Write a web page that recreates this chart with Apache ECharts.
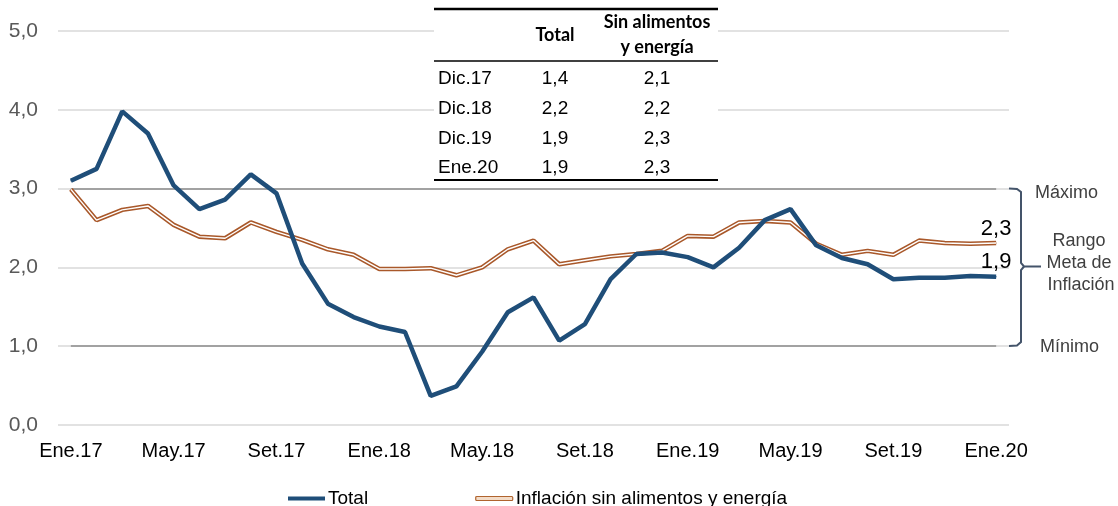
<!DOCTYPE html>
<html><head><meta charset="utf-8">
<script src="https://cdn.jsdelivr.net/npm/echarts@6/dist/echarts.min.js"></script>
<style>html,body{margin:0;padding:0;background:#fff}#c{width:1118px;height:506px}</style>
</head><body><div id="c"></div>
<script>
const categories = ['Ene.17','Feb.17','Mar.17','Abr.17','May.17','Jun.17','Jul.17','Ago.17','Set.17','Oct.17','Nov.17','Dic.17',
  'Ene.18','Feb.18','Mar.18','Abr.18','May.18','Jun.18','Jul.18','Ago.18','Set.18','Oct.18','Nov.18','Dic.18',
  'Ene.19','Feb.19','Mar.19','Abr.19','May.19','Jun.19','Jul.19','Ago.19','Set.19','Oct.19','Nov.19','Dic.19','Ene.20'];
const totalValues = [3.10,3.25,3.98,3.70,3.04,2.74,2.86,3.18,2.94,2.05,1.54,1.37,
  1.25,1.18,0.37,0.49,0.93,1.43,1.62,1.07,1.28,1.85,2.17,2.19,
  2.13,2.00,2.25,2.60,2.74,2.28,2.12,2.04,1.85,1.87,1.87,1.89,1.88];
const coreValues = [2.99,2.60,2.73,2.78,2.54,2.39,2.37,2.57,2.45,2.35,2.23,2.16,
  1.98,1.98,1.99,1.90,2.00,2.23,2.34,2.04,2.09,2.14,2.17,2.21,
  2.40,2.39,2.57,2.59,2.57,2.30,2.16,2.21,2.16,2.34,2.31,2.30,2.31];
const yTicks = [0,1,2,3,4,5];
const targetMin = 1, targetMax = 3;
const tableHeader = ['Total', ['Sin alimentos','y energía']];
const tableRows = [['Dic.17','1,4','2,1'],['Dic.18','2,2','2,2'],['Dic.19','1,9','2,3'],['Ene.20','1,9','2,3']];
const seriesNames = ['Total','Inflación sin alimentos y energía'];

const fmt = v => v.toFixed(1).replace('.', ',');
const lastIdx = categories.length - 1;
const TXT = '"Liberation Sans", Arial, sans-serif';
const endLabel = (arr) => arr.map((v,i) => i === lastIdx ? {value:v, label:{show:true, position:'top', distance:3,
  formatter: p => fmt(p.value), fontSize:22, color:'#000', fontFamily:TXT}} : v);

const graphic = [];
// table
const tx0 = 434, tx1 = 718;
graphic.push({type:'rect', shape:{x:tx0, y:8, width:tx1-tx0, height:174}, style:{fill:'#fff'}, z:50});
graphic.push({type:'line', shape:{x1:tx0,y1:9,x2:tx1,y2:9}, style:{stroke:'#000', lineWidth:2.5}, z:51});
graphic.push({type:'line', shape:{x1:tx0,y1:61,x2:tx1,y2:61}, style:{stroke:'#000', lineWidth:1.5}, z:51});
graphic.push({type:'line', shape:{x1:tx0,y1:180,x2:tx1,y2:180}, style:{stroke:'#000', lineWidth:2}, z:51});
const colX = [438, 555, 657];
const HB = 'bold 18px Lato, "Open Sans", sans-serif';
graphic.push({type:'text', z:52, style:{text:tableHeader[0], x:colX[1], y:35, textAlign:'center', textVerticalAlign:'middle', font:HB, fill:'#000'}});
graphic.push({type:'text', z:52, style:{text:tableHeader[1][0], x:colX[2], y:22, textAlign:'center', textVerticalAlign:'middle', font:HB, fill:'#000'}});
graphic.push({type:'text', z:52, style:{text:tableHeader[1][1], x:colX[2], y:47, textAlign:'center', textVerticalAlign:'middle', font:HB, fill:'#000'}});
const rowY = [79, 108.5, 139, 167.5];
tableRows.forEach((r, i) => {
  graphic.push({type:'text', z:52, style:{text:r[0], x:colX[0], y:rowY[i], textAlign:'left', textVerticalAlign:'middle', font:'19px '+TXT, fill:'#000'}});
  graphic.push({type:'text', z:52, style:{text:r[1], x:colX[1], y:rowY[i], textAlign:'center', textVerticalAlign:'middle', font:'19px '+TXT, fill:'#000'}});
  graphic.push({type:'text', z:52, style:{text:r[2], x:colX[2], y:rowY[i], textAlign:'center', textVerticalAlign:'middle', font:'19px '+TXT, fill:'#000'}});
});
// bracket
const BC = '#44546A';
graphic.push({type:'polyline', shape:{points:[[1009,188.5],[1017,189],[1021,192],[1021,263],[1024,266.5],[1041,266.5]]}, style:{stroke:BC, lineWidth:2, fill:null}, z:40});
graphic.push({type:'polyline', shape:{points:[[1024,266.5],[1021,270],[1021,342],[1017,345.5],[1009,346]]}, style:{stroke:BC, lineWidth:2, fill:null}, z:40});
const AF = '18px ' + TXT, AC = '#404040';
graphic.push({type:'text', style:{text:'Máximo', x:1035, y:193, textAlign:'left', textVerticalAlign:'middle', font:AF, fill:AC}});
graphic.push({type:'text', style:{text:'Rango', x:1079, y:241, textAlign:'center', textVerticalAlign:'middle', font:AF, fill:AC}});
graphic.push({type:'text', style:{text:'Meta de', x:1079, y:263, textAlign:'center', textVerticalAlign:'middle', font:AF, fill:AC}});
graphic.push({type:'text', style:{text:'Inflación', x:1081, y:285, textAlign:'center', textVerticalAlign:'middle', font:AF, fill:AC}});
graphic.push({type:'text', style:{text:'Mínimo', x:1040, y:347, textAlign:'left', textVerticalAlign:'middle', font:AF, fill:AC}});

const chart = echarts.init(document.getElementById('c'), null, {renderer:'canvas'});
chart.setOption({
  animation:false,
  backgroundColor:'#fff',
  grid:{left:58, right:109, top:31, bottom:81, containLabel:false},
  xAxis:{type:'category', data:categories, boundaryGap:true,
    axisLine:{show:false}, axisTick:{show:false},
    axisLabel:{interval:3, fontSize:20, color:'#000', fontFamily:TXT, margin:16},
    splitLine:{show:false}},
  yAxis:{type:'value', min:yTicks[0], max:yTicks[yTicks.length-1], interval:1,
    axisLine:{show:false}, axisTick:{show:false},
    axisLabel:{formatter:v => fmt(v), fontSize:21, color:'#595959', fontFamily:TXT, margin:20},
    splitLine:{lineStyle:{color:'#d9d9d9', width:1.5}}},
  legend:{left:283, top:484, itemWidth:37, itemHeight:4, itemGap:107,
    textStyle:{fontSize:19, color:'#000', fontFamily:TXT, padding:[0,0,0,-2]},
    data:[{name:seriesNames[0], icon:'rect', itemStyle:{color:'#1F4E79', borderWidth:0}},
          {name:seriesNames[1], icon:'roundRect', itemStyle:{color:'#f3dcc8', borderColor:'#b0642f', borderWidth:1.2}}]},
  graphic: graphic,
  series:[
    {name:seriesNames[1], type:'line', data:endLabel(coreValues), showSymbol:true, showAllSymbol:true,
      symbol:'circle', symbolSize:1,
      lineStyle:{color:'#A9582A', width:4.5}, itemStyle:{color:'#A9582A'}, z:3},
    {name:'_inner', type:'line', data:coreValues, showSymbol:false, symbol:'none', silent:true,
      lineStyle:{color:'#fff', width:1.4}, itemStyle:{color:'#fff'}, z:4},
    {name:seriesNames[0], type:'line', data:endLabel(totalValues), showSymbol:true, showAllSymbol:true,
      symbol:'circle', symbolSize:1,
      lineStyle:{color:'#1F4E79', width:4.5}, itemStyle:{color:'#1F4E79'}, z:5,
      markLine:{silent:true, symbol:'none', label:{show:false}, z:1,
        lineStyle:{color:'#8c8c8c', width:1.5, type:'solid'},
        data:[[{coord:[0,targetMax]},{coord:[lastIdx,targetMax]}],
              [{coord:[0,targetMin]},{coord:[lastIdx,targetMin]}]]}}
  ]
});
</script>
</body></html>
